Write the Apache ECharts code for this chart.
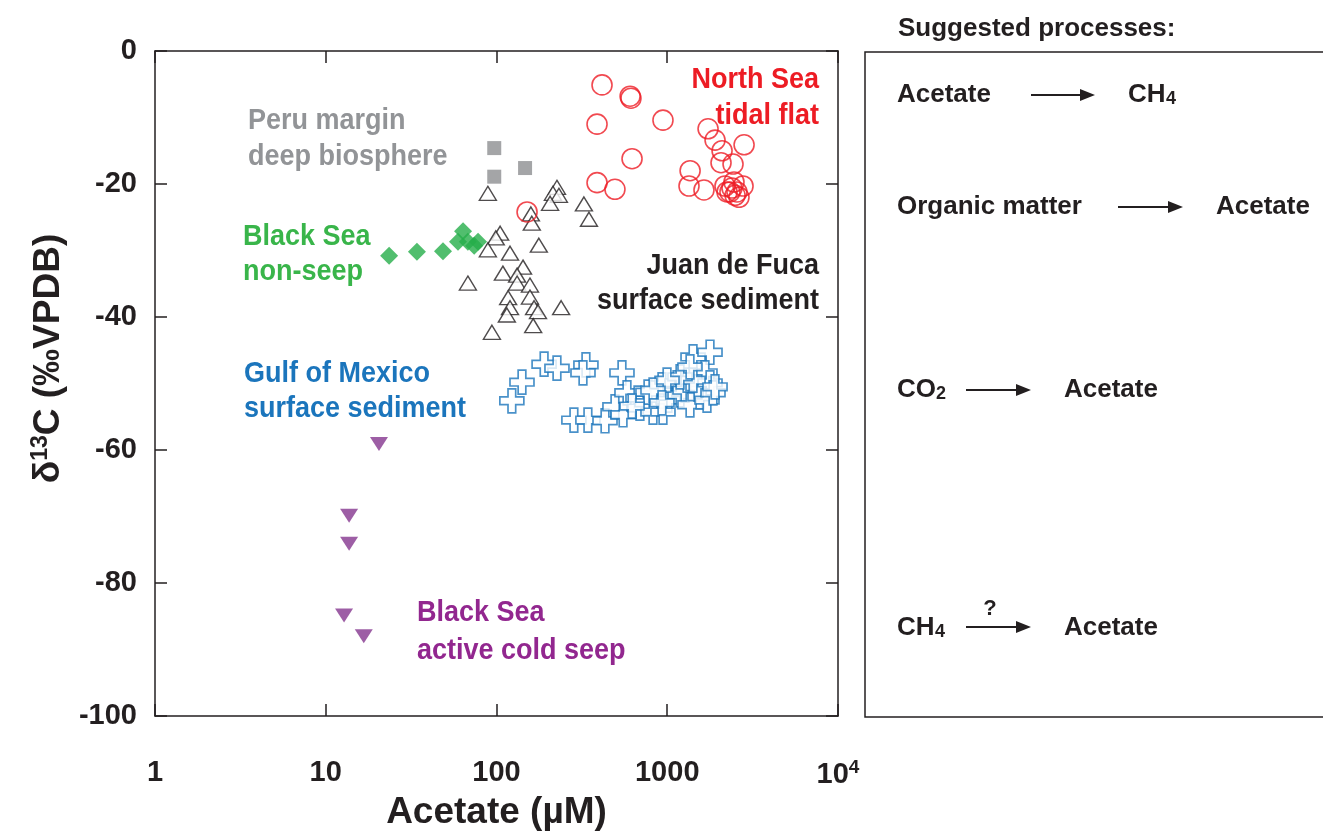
<!DOCTYPE html>
<html>
<head>
<meta charset="utf-8">
<title>Acetate d13C</title>
<script src="https://cdn.jsdelivr.net/npm/echarts@6/dist/echarts.min.js"></script>
<style>html,body{margin:0;padding:0;background:#fff;}</style>
</head>
<body>
<div id="main" style="width:1323px;height:832px;"></div>
<script>
// [acetate (uM), d13C (permil VPDB)]
var peruMargin = [[97, -14.6], [97, -18.9], [147, -17.6]];

var blackSeaNonSeep = [[23.5, -30.8], [34.2, -30.2], [48.6, -30.1], [59.5, -28.7],
    [63.7, -27.1], [68, -28.7], [74, -29.3], [78, -28.7]];

var juanDeFuca = [[89, -21.4], [226, -20.5], [214, -21.4], [232, -21.7], [206, -22.9],
    [325, -23.0], [348, -25.3], [159, -24.5], [161, -25.9], [105, -27.4], [99, -28.1],
    [177, -29.2], [89, -29.9], [120, -30.4], [143, -32.5], [109, -33.4], [132, -33.7],
    [132, -34.9], [157, -35.2], [68, -34.9], [117, -37.1], [157, -37.0], [120, -38.6],
    [166, -38.6], [175, -39.2], [115, -39.7], [239, -38.6], [164, -41.3], [94, -42.3]];

var northSea = [[415, -5.1], [606, -6.8], [613, -7.1], [388, -11.0], [944, -10.4],
    [622, -16.2], [388, -19.8], [494, -20.8], [1734, -11.7], [1905, -13.4], [2094, -15.0],
    [2818, -14.1], [1361, -18.0], [2065, -16.8], [2428, -17.0], [1341, -20.3], [1641, -20.9],
    [2178, -20.3], [2460, -19.7], [2779, -20.3], [2239, -21.2], [2394, -20.6], [2560, -21.2],
    [2631, -22.0], [2495, -21.7], [2329, -21.2], [151, -24.2]];

var gulfOfMexico = [[123, -52.6], [141, -49.8], [190, -47.1], [226, -47.7], [334, -47.2],
    [321, -48.4], [543, -48.4], [284, -55.5], [343, -55.5], [432, -55.6], [494, -53.5],
    [551, -54.7], [581, -51.4], [674, -52.2], [692, -53.7], [761, -52.9], [825, -54.3],
    [771, -51.3], [931, -50.2], [1010, -52.5], [944, -54.3], [1141, -49.9], [1188, -51.7],
    [1271, -51.0], [1359, -53.2], [1306, -49.5], [1416, -46.0], [1780, -45.3], [1663, -48.4],
    [1555, -52.0], [1514, -50.5], [1709, -52.5], [1780, -49.9], [1853, -51.4], [1416, -49.5],
    [1188, -49.0], [997, -49.5], [825, -51.0], [622, -53.4], [931, -52.9], [1359, -47.5],
    [1905, -50.5]];

var blackSeaSeep = [[20.5, -59.1], [13.7, -69.9], [13.7, -74.1], [12.8, -84.9], [16.7, -88.0]];

var xTicks = [1, 10, 100, 1000, 10000];
var yTicks = [0, -20, -40, -60, -80, -100];

var FONT = "'Liberation Sans',Arial,Helvetica,sans-serif";
var INK = '#231f20';

var myChart = echarts.init(document.getElementById('main'));

var crossPath = 'path://M3.4,0 L6.6,0 L6.6,3.4 L10,3.4 L10,6.6 L6.6,6.6 L6.6,10 L3.4,10 L3.4,6.6 L0,6.6 L0,3.4 L3.4,3.4 Z';

var tickStyle = {show: true, inside: true, length: 12, lineStyle: {color: INK, width: 1.5}};
var lineStyle = {show: true, onZero: false, lineStyle: {color: INK, width: 1.5}};

// condensed look: bold text squeezed horizontally
function note(text, x, y, color, align) {
    return {
        type: 'text', x: x, y: y, z: 10, scaleX: 0.9,
        style: {text: text, fill: color, textAlign: align || 'left', textVerticalAlign: 'middle',
            font: 'bold 30px ' + FONT}
    };
}
function label(text, x, y) {
    return {
        type: 'text', x: x, y: y,
        style: {text: text, fill: INK, textVerticalAlign: 'middle', font: 'bold 26px ' + FONT}
    };
}
function sub(text, x, y) {
    return {
        type: 'text', x: x, y: y,
        style: {text: text, fill: INK, textVerticalAlign: 'middle', font: 'bold 18px ' + FONT}
    };
}
function arrow(x1, x2, y) {
    return [
        {type: 'line', shape: {x1: x1, y1: y, x2: x2 - 12, y2: y}, style: {stroke: INK, lineWidth: 2}},
        {type: 'polygon', shape: {points: [[x2 - 15, y - 6], [x2, y], [x2 - 15, y + 6]]}, style: {fill: INK}}
    ];
}

var graphics = [
    note('Peru margin', 248, 121, '#929497'),
    note('deep biosphere', 248, 157, '#929497'),
    note('North Sea', 819, 80, '#ed1c24', 'right'),
    note('tidal flat', 819, 116, '#ed1c24', 'right'),
    note('Black Sea', 243, 237, '#39b54a'),
    note('non-seep', 243, 272, '#39b54a'),
    note('Juan de Fuca', 819, 266, INK, 'right'),
    note('surface sediment', 819, 301, INK, 'right'),
    note('Gulf of Mexico', 244, 374, '#1b75bc'),
    note('surface sediment', 244, 409, '#1b75bc'),
    note('Black Sea', 417, 613, '#92278f'),
    note('active cold seep', 417, 651, '#92278f'),
    // right panel
    {type: 'text', x: 898, y: 29, style: {text: 'Suggested processes:', fill: INK,
        textVerticalAlign: 'middle', font: 'bold 26px ' + FONT}},
    {type: 'rect', shape: {x: 865, y: 52, width: 480, height: 665},
        style: {fill: 'none', stroke: INK, lineWidth: 1.5}},
    label('Acetate', 897, 95), label('CH', 1128, 95), sub('4', 1166, 99),
    label('Organic matter', 897, 207), label('Acetate', 1216, 207),
    label('CO', 897, 390), sub('2', 936, 394), label('Acetate', 1064, 390),
    label('CH', 897, 628), sub('4', 935, 632), label('Acetate', 1064, 628),
    {type: 'text', x: 990, y: 609, style: {text: '?', fill: INK, textAlign: 'center',
        textVerticalAlign: 'middle', font: 'bold 22px ' + FONT}}
].concat(arrow(1031, 1095, 95), arrow(1118, 1183, 207), arrow(966, 1031, 390), arrow(966, 1031, 627));

option = {
    backgroundColor: '#fff',
    animation: false,
    grid: {left: 155, right: 485, top: 51, bottom: 116, outerBoundsMode: 'none', containLabel: false},
    xAxis: [{
        type: 'log', logBase: 10, min: xTicks[0], max: xTicks[xTicks.length - 1],
        position: 'bottom',
        axisLine: lineStyle, axisTick: tickStyle, splitLine: {show: false}, minorTick: {show: false},
        axisLabel: {
            margin: 42, color: INK, fontSize: 29, fontWeight: 'bold', fontFamily: FONT,
            formatter: function (v) {
                v = Math.round(v);
                return v === 10000 ? '10{sup|4}' : String(v);
            },
            rich: {sup: {fontSize: 19, fontWeight: 'bold', fontFamily: FONT, color: INK, verticalAlign: 'top', padding: [0, 0, 14, 0]}}
        },
        name: 'Acetate (µM)', nameLocation: 'middle', nameGap: 69,
        nameTextStyle: {color: INK, fontSize: 37, fontWeight: 'bold', fontFamily: FONT}
    }, {
        type: 'log', logBase: 10, min: xTicks[0], max: xTicks[xTicks.length - 1],
        position: 'top',
        axisLine: lineStyle, axisTick: tickStyle, splitLine: {show: false}, axisLabel: {show: false}
    }],
    yAxis: [{
        type: 'value', min: yTicks[yTicks.length - 1], max: yTicks[0], interval: 20,
        position: 'left',
        axisLine: lineStyle, axisTick: tickStyle, splitLine: {show: false},
        axisLabel: {margin: 18, color: INK, fontSize: 29, fontWeight: 'bold', fontFamily: FONT},
        name: '{t|δ}{sup|13}{t|C (‰VPDB)}', nameLocation: 'middle', nameGap: 87, nameRotate: 90,
        nameTextStyle: {
            color: INK, fontSize: 37, fontWeight: 'bold', fontFamily: FONT, padding: [0, 0, 0, 50],
            rich: {
                t: {fontSize: 37, fontWeight: 'bold', fontFamily: FONT, color: INK},
                sup: {fontSize: 23, fontWeight: 'bold', fontFamily: FONT, color: INK, verticalAlign: 'top', padding: [0, 0, 16, 0]}
            }
        }
    }, {
        type: 'value', min: yTicks[yTicks.length - 1], max: yTicks[0], interval: 20,
        position: 'right',
        axisLine: lineStyle, axisTick: tickStyle, splitLine: {show: false}, axisLabel: {show: false}
    }],
    graphic: graphics,
    series: [
        {
            name: 'Gulf of Mexico', type: 'scatter', data: gulfOfMexico,
            symbol: crossPath, symbolSize: 24, symbolKeepAspect: true,
            itemStyle: {color: '#fff', borderColor: '#1b75bc', borderWidth: 1.7}
        },
        {
            name: 'Juan de Fuca', type: 'scatter', data: juanDeFuca,
            symbol: 'triangle', symbolSize: [17, 14],
            itemStyle: {color: '#fff', borderColor: INK, borderWidth: 1.4}
        },
        {
            name: 'North Sea', type: 'scatter', data: northSea,
            symbol: 'circle', symbolSize: 20,
            itemStyle: {color: 'rgba(255,255,255,0)', borderColor: '#ed1c24', borderWidth: 1.6}
        },
        {
            name: 'Peru margin', type: 'scatter', data: peruMargin,
            symbol: 'rect', symbolSize: 14,
            itemStyle: {color: '#8d8e91'}
        },
        {
            name: 'Black Sea non-seep', type: 'scatter', data: blackSeaNonSeep,
            symbol: 'diamond', symbolSize: [18, 18],
            itemStyle: {color: '#25ae4a'}
        },
        {
            name: 'Black Sea seep', type: 'scatter', data: blackSeaSeep,
            symbol: 'triangle', symbolSize: [18, 14], symbolRotate: 180,
            itemStyle: {color: '#85368f'}
        }
    ]
};

myChart.setOption(option);
</script>
</body>
</html>
